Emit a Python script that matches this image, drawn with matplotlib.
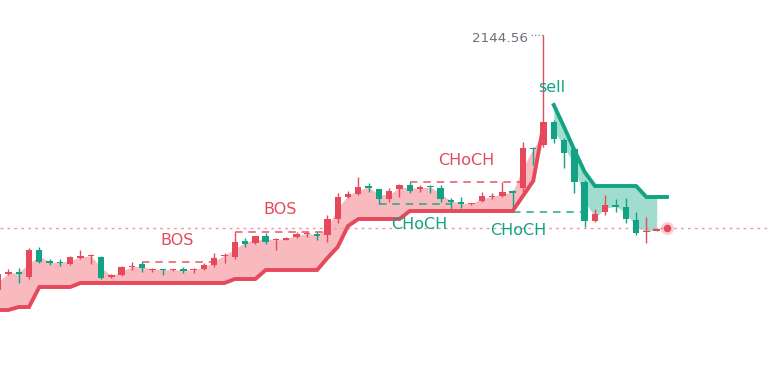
import matplotlib.pyplot as plt
import numpy as np

RED = "#e5495b"
GREEN = "#12a384"

# candles, index 0..65
opens = [2119.06, 2120.71, 2120.86, 2120.39, 2123.06, 2121.91, 2121.86, 2121.66, 2122.31, 2122.43,
         2122.36, 2120.36, 2120.56, 2121.34, 2121.63, 2121.09, 2121.16, 2121.06, 2121.11, 2121.03,
         2121.13, 2121.56, 2122.49, 2122.41, 2123.96, 2123.73, 2124.46, 2124.03, 2124.11, 2124.39,
         2124.69, 2124.61, 2124.56, 2126.13, 2128.39, 2128.66, 2129.43, 2129.13, 2128.13, 2129.13,
         2129.56, 2129.13, 2129.41, 2129.23, 2128.03, 2127.81, 2127.63, 2127.99, 2128.36, 2128.46,
         2128.91, 2129.23, 2133.26, 2133.56, 2135.89, 2134.06, 2133.13, 2129.89, 2125.99, 2126.86,
         2127.51, 2127.33, 2126.06, 2124.86, 2124.99, 2125.26]
closes = [2120.66, 2120.81, 2120.71, 2123.06, 2121.89, 2121.81, 2121.76, 2122.33, 2122.41, 2122.53,
          2120.26, 2120.56, 2121.33, 2121.44, 2121.23, 2121.16, 2121.06, 2121.11, 2121.01, 2121.11,
          2121.56, 2122.29, 2122.59, 2123.89, 2123.71, 2124.46, 2123.89, 2124.11, 2124.31, 2124.63,
          2124.76, 2124.51, 2126.13, 2128.33, 2128.66, 2129.39, 2129.31, 2128.13, 2128.99, 2129.56,
          2128.99, 2129.36, 2129.33, 2128.13, 2127.89, 2127.71, 2127.76, 2128.46, 2128.43, 2128.89,
          2128.81, 2133.29, 2133.16, 2135.89, 2134.13, 2132.79, 2129.89, 2125.99, 2126.66, 2127.53,
          2127.41, 2126.13, 2124.79, 2124.93, 2125.19, 2125.31]
highs = [2121.16, 2121.16, 2121.26, 2123.26, 2123.36, 2122.16, 2122.16, 2122.46, 2123.11, 2122.66,
         2122.46, 2120.71, 2121.46, 2121.89, 2121.89, 2121.29, 2121.16, 2121.16, 2121.39, 2121.29,
         2121.73, 2122.73, 2122.73, 2124.91, 2124.23, 2124.51, 2124.73, 2124.23, 2124.39, 2124.86,
         2124.89, 2124.89, 2126.56, 2128.73, 2128.99, 2130.33, 2129.73, 2129.21, 2129.23, 2129.66,
         2129.89, 2129.56, 2129.56, 2129.56, 2128.23, 2128.33, 2127.79, 2128.89, 2128.73, 2129.89,
         2129.06, 2133.89, 2133.33, 2144.56, 2136.06, 2134.23, 2133.39, 2130.06, 2127.13, 2128.56,
         2128.13, 2128.29, 2126.89, 2126.33, 2125.26, 2125.36]
lows = [2118.76, 2120.56, 2119.76, 2120.16, 2121.76, 2121.56, 2121.46, 2121.56, 2122.16, 2121.66,
        2120.16, 2120.31, 2120.51, 2121.06, 2120.89, 2120.89, 2120.56, 2121.01, 2120.73, 2120.79,
        2121.06, 2121.39, 2121.73, 2122.16, 2123.39, 2123.66, 2123.66, 2123.06, 2124.06, 2124.23,
        2124.33, 2124.06, 2123.89, 2125.79, 2128.23, 2128.56, 2128.89, 2127.66, 2127.89, 2128.39,
        2128.79, 2128.89, 2128.73, 2127.89, 2127.13, 2127.23, 2127.56, 2127.89, 2128.13, 2128.33,
        2126.89, 2128.89, 2131.56, 2133.39, 2133.73, 2131.23, 2128.79, 2125.33, 2125.89, 2126.56,
        2126.89, 2125.79, 2124.56, 2123.73, 2124.96, 2125.21]

# trailing stop, long part (0..53) and short part (54..65)
stop_long = [2117.06, 2117.06, 2117.36, 2117.36, 2119.36, 2119.36, 2119.36, 2119.36, 2119.76, 2119.76,
             2119.76, 2119.76, 2119.76, 2119.76, 2119.76, 2119.76, 2119.76, 2119.76, 2119.76, 2119.76,
             2119.76, 2119.76, 2119.76, 2120.16, 2120.16, 2120.16, 2121.06, 2121.06, 2121.06, 2121.06,
             2121.06, 2121.06, 2122.26, 2123.36, 2125.46, 2126.16, 2126.16, 2126.16, 2126.16, 2126.16,
             2126.96, 2126.96, 2126.96, 2126.96, 2126.96, 2126.96, 2126.96, 2126.96, 2126.96, 2126.96,
             2126.96, 2128.46, 2129.96, 2135.56]
stop_short = [2137.56, 2135.36, 2133.06, 2130.86, 2129.46, 2129.46, 2129.46, 2129.46, 2129.46,
              2128.36, 2128.36, 2128.36]

# structure breaks: (start, end, level, label, colour key)
struct_lines = [
    (14, 21, 2121.86, "BOS", "up"),
    (23, 32, 2124.91, "BOS", "up"),
    (37, 44, 2127.66, "CHoCH", "down"),
    (40, 51, 2129.89, "CHoCH", "up"),
    (50, 57, 2126.89, "CHoCH", "down"),
]
label_pos = [(17.4, 2124.06), (27.4, 2127.16), (40.9, 2125.66), (45.5, 2132.06), (50.5, 2125.06)]

o = np.array(opens)
c = np.array(closes)
h = np.array(highs)
l = np.array(lows)
x = np.arange(len(o))
up = c >= o
cols = np.where(up, RED, GREEN)

fig = plt.figure(figsize=(7.71, 3.70), dpi=100)
ax = fig.add_axes([0, 0, 1, 1])
ax.set_xlim(0.18, 75.11)
ax.set_ylim(2111.06, 2148.06)
ax.axis("off")

mid = (o + c) / 2
n_long = len(stop_long)
ax.fill_between(x[:n_long], stop_long, mid[:n_long], color="#f8b9bf", lw=0, zorder=1)
xs = x[n_long:]
ax.fill_between(xs[:-1], stop_short[:-1], mid[n_long:-1], color="#a0ddcf", lw=0, zorder=1)

# last price line
ax.axhline(c[-1], color="#ef9aa3", lw=1, ls=(0, (2, 3)), zorder=1.5)

for (s, e, lev, txt, kind), (lx, ly) in zip(struct_lines, label_pos):
    col = RED if kind == "up" else GREEN
    ax.plot([s, e], [lev, lev], color=col, lw=1.2, ls=(0, (4.5, 3.5)), alpha=0.85, zorder=2)
    ax.text(lx, ly, txt, color=col, fontsize=11.5, ha="center", va="center", zorder=6)

ax.vlines(x, l, h, colors=cols, lw=1.0, zorder=3)
body = np.maximum(np.abs(c - o), 0.12)
ax.bar(x, body, bottom=np.minimum(o, c), width=0.62, color=cols, lw=0, zorder=3)

ax.plot(x[:n_long], stop_long, color=RED, lw=2.8, solid_joinstyle="miter", zorder=4)
ax.plot(xs, stop_short, color=GREEN, lw=2.8, solid_joinstyle="miter", zorder=4)

ax.text(54 - 0.17, 2139.26, "sell", color=GREEN, fontsize=11.5, ha="center", va="center", zorder=6)

# max high marker
imax = int(np.argmax(h))
ax.plot([imax - 1.25, imax], [h[imax], h[imax]], color="#8a8d96", lw=1, ls=(0, (1, 1.5)), zorder=5)
ax.text(imax - 1.55, h[imax] - 0.35, f"{h[imax]:.2f}", color="#6e7079", fontsize=9.7,
        ha="right", va="center", zorder=6)

# last candle dot
ax.scatter([x[-1]], [c[-1]], s=90, color=RED, alpha=0.25, lw=0, zorder=5)
ax.scatter([x[-1]], [c[-1]], s=30, color=RED, lw=0, zorder=5)

fig.savefig("out.png", dpi=100)
